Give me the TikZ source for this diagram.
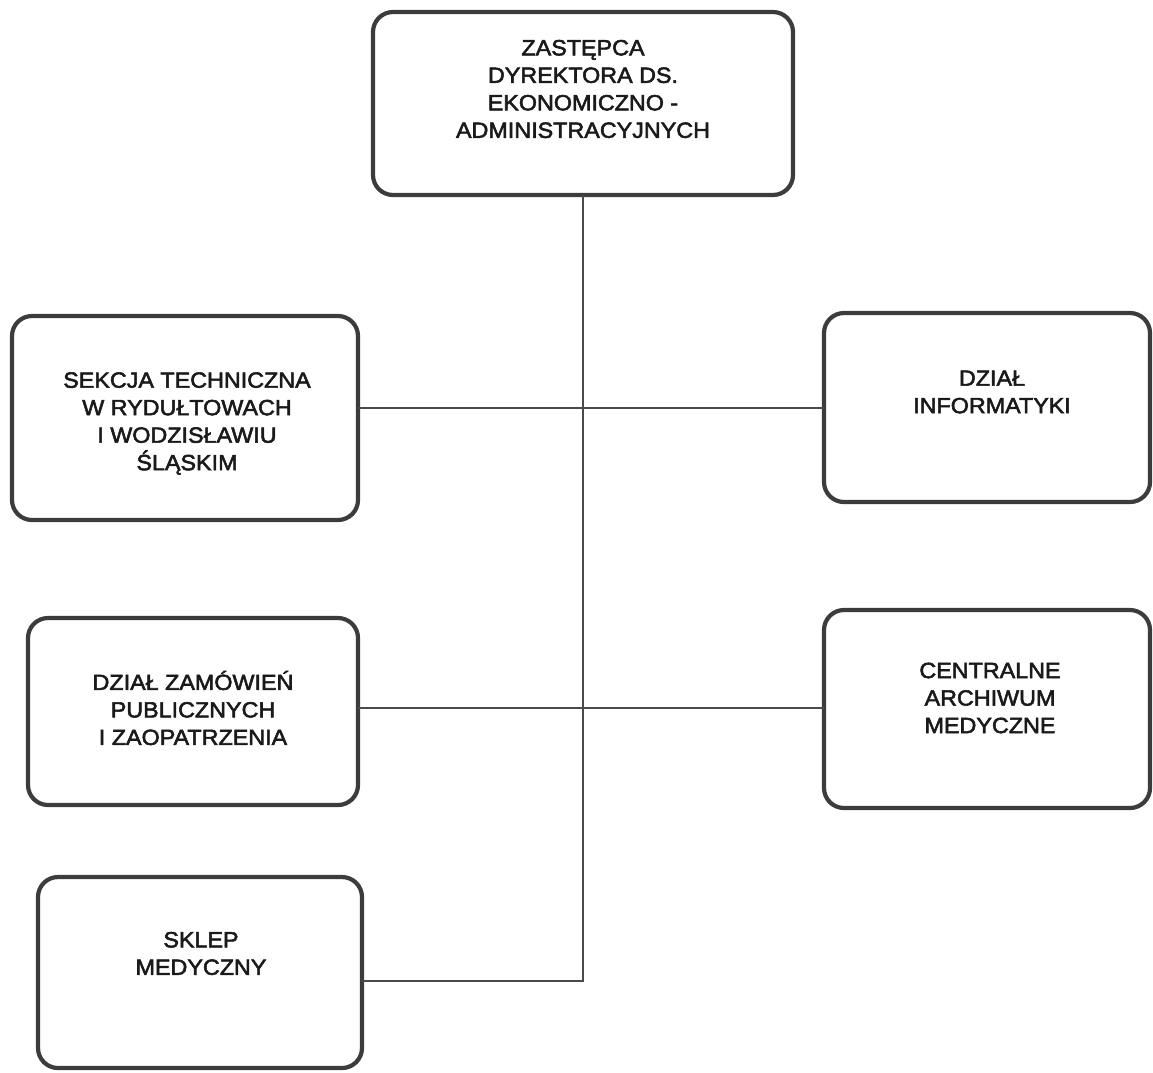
\documentclass[tikz,border=0pt]{standalone}
\usepackage{fontspec}
\setmainfont{Liberation Sans}[FakeStretch=1.06, FakeBold=2.5]
\definecolor{boxline}{HTML}{3C3C3C}
\definecolor{linkline}{HTML}{4A4A4A}
\definecolor{ink}{HTML}{1A1A1A}
\begin{document}
\begin{tikzpicture}[x=1pt,y=-1pt,
  unit/.style={draw=boxline, line width=4.2pt, rounded corners=20pt,
    rectangle, inner sep=0pt, outer sep=0pt, fill=white},
  caption/.style={align=center, text=ink, inner sep=0pt,
    font=\fontsize{22}{27.5}\selectfont},
  link/.style={draw=linkline, line width=1.4pt}]
\useasboundingbox (0,0) rectangle (1153,1072);

% units
\node[unit, minimum width=420pt, minimum height=183pt] (head)  at (583,103.5) {};
\node[unit, minimum width=346pt, minimum height=204pt] (tech)  at (185,418) {};
\node[unit, minimum width=326pt, minimum height=189pt] (it)    at (987,407.5) {};
\node[unit, minimum width=330pt, minimum height=187pt] (zam)   at (193,711.5) {};
\node[unit, minimum width=326pt, minimum height=198pt] (arch)  at (987,709) {};
\node[unit, minimum width=324pt, minimum height=191pt] (shop)  at (200,972.5) {};

% captions
\node[caption] (headtxt) at (583,89)    {ZASTĘPCA\\DYREKTORA DS.\\EKONOMICZNO -\\ADMINISTRACYJNYCH};
\node[caption] (techtxt) at (187,423.5) {SEKCJA TECHNICZNA\\W RYDUŁTOWACH\\I WODZISŁAWIU\\ŚLĄSKIM};
\node[caption] (ittxt)   at (992,392)   {DZIAŁ\\INFORMATYKI};
\node[caption] (zamtxt)  at (193,708)   {DZIAŁ ZAMÓWIEŃ\\PUBLICZNYCH\\I ZAOPATRZENIA};
\node[caption] (archtxt) at (990,698)   {CENTRALNE\\ARCHIWUM\\MEDYCZNE};
\node[caption] (shoptxt) at (201,953.5) {SKLEP\\MEDYCZNY};

% connectors
\coordinate (row1) at (583,408);
\coordinate (row2) at (583,708);
\coordinate (trunkend) at (583,981);
\draw[link] (head.south) -- (trunkend) -- (shop.east |- trunkend);
\draw[link] (tech.east |- row1) -- (it.west |- row1);
\draw[link] (zam.east |- row2) -- (arch.west |- row2);
\end{tikzpicture}
\end{document}
